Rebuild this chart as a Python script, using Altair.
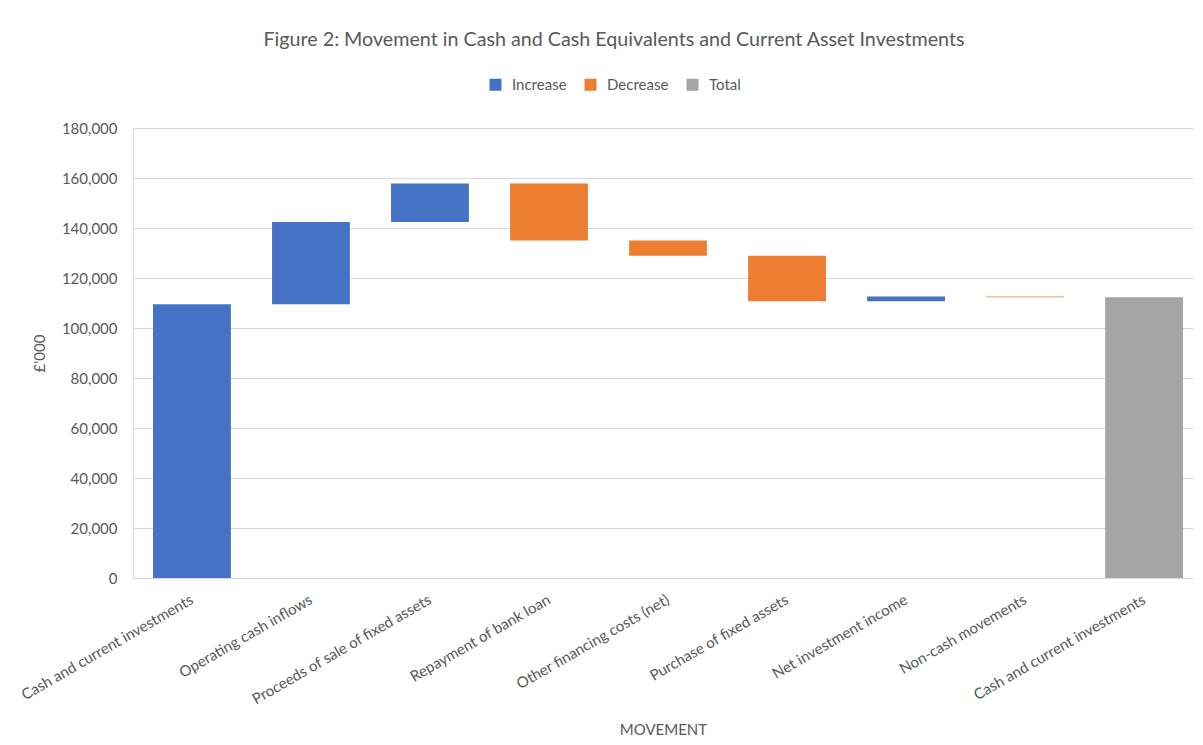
import json
import altair as alt
import pandas as pd

# ---- data ----
categories = [
    "Cash and current investments",
    "Operating cash inflows",
    "Proceeds of sale of fixed assets",
    "Repayment of bank loan",
    "Other financing costs (net)",
    "Purchase of fixed assets",
    "Net investment income",
    "Non-cash movements",
    "Cash and current investments",
]
amounts = [109500, 32900, 15400, -22800, -6100, -18200, 1900, -300, 112300]
kinds = ["Increase", "Increase", "Increase", "Decrease", "Decrease",
         "Decrease", "Increase", "Decrease", "Total"]
legend_order = ["Increase", "Decrease", "Total"]
legend_colors = ["#4472C4", "#ED7D31", "#A5A5A5"]
y_ticks = [0, 20000, 40000, 60000, 80000, 100000, 120000, 140000, 160000, 180000]

rows = []
running = 0
for i, (c, a, k) in enumerate(zip(categories, amounts, kinds)):
    if k == "Total":
        start, end = 0, a
    else:
        start, end = running, running + a
    running = end
    rows.append({"step": i, "category": c, "kind": k, "start": start, "end": end})
df = pd.DataFrame(rows)

FONT = "Lato"
GREY = "#595959"
GRID = "#D9D9D9"
label_expr = json.dumps(categories) + "[datum.value]"

chart = alt.Chart(df).mark_bar().encode(
    x=alt.X(
        "step:O",
        title="MOVEMENT",
        scale=alt.Scale(paddingInner=0.346, paddingOuter=0.126, align=0.667),
        axis=alt.Axis(
            labelExpr=label_expr, labelAngle=-30, labelAlign="right",
            labelBaseline="middle", labelPadding=20, ticks=False, tickSize=0,
            labelLimit=400, domainColor=GRID, titlePadding=15, grid=False,
        ),
    ),
    y=alt.Y(
        "start:Q",
        title="£'000",
        scale=alt.Scale(domain=[0, 180000], nice=False),
        axis=alt.Axis(
            values=y_ticks, format=",.0f", ticks=False, tickSize=0,
            labelPadding=16, titlePadding=14, domainColor=GRID,
            gridColor=GRID, gridWidth=1,
        ),
    ),
    y2="end:Q",
    color=alt.Color(
        "kind:N",
        scale=alt.Scale(domain=legend_order, range=legend_colors),
        legend=alt.Legend(
            title=None, orient="none", legendX=355, legendY=-51,
            direction="horizontal", symbolType="square", symbolSize=144,
            symbolStrokeWidth=0, labelOffset=9, columnPadding=16,
        ),
    ),
).properties(
    width=1060,
    height=450,
    padding={"left": 10, "top": 22, "right": 0, "bottom": 0},
    title=alt.Title(
        text="Figure 2: Movement in Cash and Cash Equivalents and Current Asset Investments",
        font=FONT, fontSize=19.7, fontWeight="normal", color=GREY,
        anchor="middle", frame="group", offset=27, dx=-49,
    ),
).configure_view(
    stroke=None
).configure_axis(
    labelFont=FONT, labelFontSize=15, labelColor=GREY,
    titleFont=FONT, titleFontSize=15, titleColor=GREY, titleFontWeight="normal",
).configure_legend(
    labelFont=FONT, labelFontSize=15, labelColor=GREY,
)

chart.save("out.html", embed_options={"renderer": "svg", "actions": False})
